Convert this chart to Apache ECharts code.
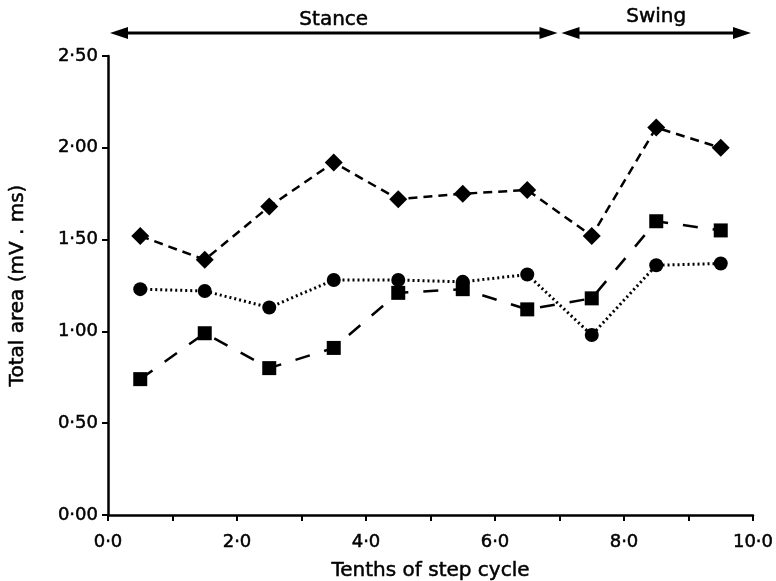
<!DOCTYPE html>
<html>
<head>
<meta charset="utf-8">
<script src="https://cdn.jsdelivr.net/npm/echarts@6/dist/echarts.min.js"></script>
<style>html,body{margin:0;padding:0;background:#fff}#c{width:776px;height:581px}</style>
</head>
<body>
<div id="c"></div>
<script>
// Data
const xValues   = [0.5, 1.5, 2.5, 3.5, 4.5, 5.5, 6.5, 7.5, 8.5, 9.5];
const diamonds  = [1.52, 1.39, 1.68, 1.92, 1.72, 1.75, 1.77, 1.52, 2.11, 2.00];
const circles   = [1.23, 1.22, 1.13, 1.28, 1.28, 1.27, 1.31, 0.98, 1.36, 1.37];
const squares   = [0.74, 0.99, 0.80, 0.91, 1.21, 1.23, 1.12, 1.18, 1.60, 1.55];
const phaseNames = ['Stance', 'Swing'];
const phaseStart = [0, 7];
const phaseEnd   = [7, 10];
const xTitle = 'Tenths of step cycle';
const yTitle = 'Total area (mV . ms)';

const FONT = '"DejaVu Sans", "Liberation Sans", Arial, sans-serif';
const HEAVY = {textBorderColor: '#000', textBorderWidth: 0.5};
const pair = (xs, ys) => xs.map((x, i) => [x, ys[i]]);

const chart = echarts.init(document.getElementById('c'), null, {renderer: 'canvas'});
const axisCommon = {
  axisLine: {show: true, lineStyle: {color: '#000', width: 2.5}},
  axisTick: {show: true, inside: false, length: 6, lineStyle: {color: '#000', width: 2}},
  splitLine: {show: false},
  nameTextStyle: Object.assign({fontFamily: FONT, fontSize: 20, color: '#000'}, HEAVY)
};
chart.setOption({
  animation: false,
  backgroundColor: '#fff',
  grid: {left: 108, right: 23, top: 56, bottom: 66, containLabel: false, outerBoundsMode: 'none'},
  xAxis: Object.assign({}, axisCommon, {
    type: 'value', min: 0, max: 10, interval: 1,
    name: xTitle, nameLocation: 'middle', nameGap: 46,
    axisLabel: Object.assign({
      fontFamily: FONT, fontSize: 18, color: '#000', margin: 18,
      formatter: v => (Math.round(v) % 2 === 0 ? v.toFixed(1).replace('.', '·') : '')
    }, HEAVY)
  }),
  yAxis: Object.assign({}, axisCommon, {
    type: 'value', min: 0, max: 2.5, interval: 0.5,
    name: yTitle, nameLocation: 'middle', nameGap: 80, nameRotate: 90,
    axisLabel: Object.assign({
      fontFamily: FONT, fontSize: 18, color: '#000', margin: 10,
      formatter: v => v.toFixed(2).replace('.', '·')
    }, HEAVY)
  }),
  series: [
    {
      type: 'line', data: pair(xValues, diamonds), symbol: 'diamond', symbolSize: 18,
      lineStyle: {color: '#000', width: 2.5, type: [9, 6]},
      itemStyle: {color: '#000'}, z: 3
    },
    {
      type: 'line', data: pair(xValues, squares), symbol: 'rect', symbolSize: 14,
      lineStyle: {color: '#000', width: 2.5, type: [15, 15]},
      itemStyle: {color: '#000'}, z: 2
    },
    {
      type: 'line', data: pair(xValues, circles), symbol: 'circle', symbolSize: 14,
      lineStyle: {color: '#000', width: 3, type: [2, 3]},
      itemStyle: {color: '#000'}, z: 2
    }
  ]
});

// Phase arrows above the plot, positioned through the axis scale
const yTop = chart.convertToPixel({gridIndex: 0}, [0, 2.5])[1];
const arrowY = yTop - 23;
const gfx = [];
phaseNames.forEach((name, i) => {
  const x0 = chart.convertToPixel({gridIndex: 0}, [phaseStart[i], 2.5])[0] + 2;
  const x1 = chart.convertToPixel({gridIndex: 0}, [phaseEnd[i], 2.5])[0] - 2;
  gfx.push({type: 'line', shape: {x1: x0 + 10, y1: arrowY, x2: x1 - 10, y2: arrowY},
            style: {stroke: '#000', lineWidth: 3}});
  gfx.push({type: 'polygon', shape: {points: [[x0, arrowY], [x0 + 18, arrowY - 6], [x0 + 18, arrowY + 6]]},
            style: {fill: '#000'}});
  gfx.push({type: 'polygon', shape: {points: [[x1, arrowY], [x1 - 18, arrowY - 6], [x1 - 18, arrowY + 6]]},
            style: {fill: '#000'}});
  gfx.push({type: 'text', x: (x0 + x1) / 2, y: arrowY - 13 - (i === 1 ? 3 : 0),
            style: {text: name, fontFamily: FONT, fontSize: 20, fill: '#000', align: 'center',
                    verticalAlign: 'middle', stroke: '#000', lineWidth: 0.5}});
});
chart.setOption({graphic: gfx});
</script>
</body>
</html>
